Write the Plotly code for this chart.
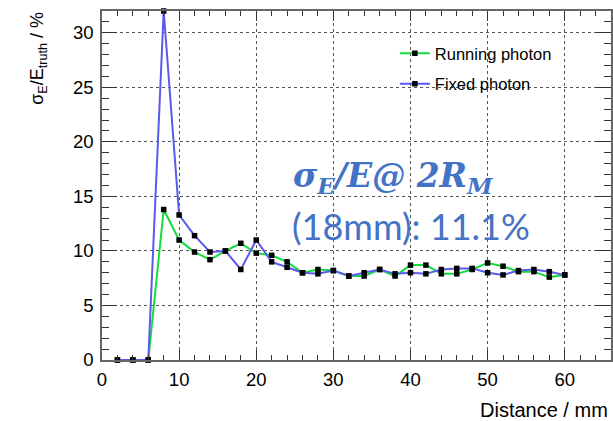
import plotly.graph_objects as go

# Energy resolution versus distance for two photon configurations
distance_mm = [2, 4, 6, 8, 10, 12, 14, 16, 18, 20, 22, 24, 26, 28, 30,
               32, 34, 36, 38, 40, 42, 44, 46, 48, 50, 52, 54, 56, 58, 60]

running_photon = [0.0, 0.0, 0.0, 13.8, 11.0, 9.9, 9.2, 10.0, 10.7, 9.8,
                  9.6, 9.0, 8.0, 8.3, 8.2, 7.7, 7.7, 8.3, 7.7, 8.7,
                  8.7, 7.9, 7.9, 8.3, 8.9, 8.6, 8.1, 8.1, 7.6, 7.8]

fixed_photon = [0.0, 0.0, 0.0, 32.0, 13.3, 11.4, 9.9, 10.0, 8.3, 11.0,
                9.0, 8.5, 8.0, 7.9, 8.2, 7.7, 8.0, 8.3, 7.9, 8.0,
                7.9, 8.3, 8.4, 8.4, 8.0, 7.8, 8.2, 8.3, 8.1, 7.8]

x_ticks = [0, 10, 20, 30, 40, 50, 60]
y_ticks = [0, 5, 10, 15, 20, 25, 30]

W, H = 613, 421
L, R, T, B = 102, 0, 11, 61
pw, ph = W - L - R, H - T - B

font_main = "Liberation Sans, Arial, Helvetica, sans-serif"

fig = go.Figure()

fig.add_trace(go.Scatter(
    x=distance_mm, y=running_photon, name="Running photon",
    mode="lines+markers", legendgroup="a",
    line=dict(color="#14dc3c", width=2),
    marker=dict(color="black", symbol="square", size=5.5),
    cliponaxis=False,
))
fig.add_trace(go.Scatter(
    x=distance_mm, y=fixed_photon, name="Fixed photon",
    mode="lines+markers", legendgroup="b",
    line=dict(color="#5a5aee", width=2),
    marker=dict(color="black", symbol="square", size=5.5),
    cliponaxis=False,
))

axis_common = dict(
    showline=True, linecolor="#666666", linewidth=1.5, mirror="ticks",
    ticks="inside", tickcolor="#333333", tickwidth=1,
    showgrid=True, gridcolor="#555555", griddash="dot", gridwidth=1,
    zeroline=False,
    tickfont=dict(family=font_main, size=18.5, color="black"),
)

fig.update_xaxes(
    range=[0, 66.0], tickmode="array", tickvals=x_ticks,
    ticklen=10, ticklabelstandoff=2,
    minor=dict(dtick=2, ticklen=5, ticks="inside", tickcolor="#333333", showgrid=False),
    **axis_common,
)
fig.update_yaxes(
    range=[0, 32.0], tickmode="array", tickvals=y_ticks,
    ticklen=15, ticklabelstandoff=3,
    minor=dict(dtick=1, ticklen=7, ticks="inside", tickcolor="#333333", showgrid=False),
    **axis_common,
)

def px_x(p):
    return (p - L) / pw

def px_y(p):
    return (H - B - p) / ph

annotations = [
    # y-axis title
    dict(text="σ<sub>E</sub>/E<sub>truth</sub> / %", textangle=-90,
         x=px_x(38), y=px_y(10), xref="paper", yref="paper",
         xanchor="center", yanchor="top", showarrow=False,
         font=dict(family=font_main, size=18, color="black")),
    # x-axis title
    dict(text="Distance / mm", x=px_x(612), y=px_y(410),
         xref="paper", yref="paper", xanchor="right", yanchor="middle",
         showarrow=False, font=dict(family=font_main, size=20, color="black")),
    # resolution statement, two lines
    dict(text="<b><i>σ<sub>E</sub>/E@ 2R<sub>M</sub></i></b>",
         x=px_x(292), y=px_y(201), xref="paper", yref="paper",
         xanchor="left", yanchor="bottom", showarrow=False,
         font=dict(family="DejaVu Serif, serif", size=33, color="#4472c4")),
    dict(text="(18mm): 11.1%",
         x=px_x(291), y=px_y(202), xref="paper", yref="paper",
         xanchor="left", yanchor="top", showarrow=False,
         font=dict(family="Lato, Open Sans, sans-serif", size=36, color="#4472c4")),
]

fig.update_layout(
    width=W, height=H,
    margin=dict(l=L, r=R, t=T, b=B, pad=0),
    paper_bgcolor="white", plot_bgcolor="white",
    annotations=annotations,
    showlegend=True,
    legend=dict(
        x=px_x(396), y=px_y(36), xanchor="left", yanchor="top",
        bgcolor="rgba(0,0,0,0)", borderwidth=0,
        font=dict(family=font_main, size=16.5, color="black"),
        tracegroupgap=6,
    ),
)

fig.write_html("out.html")
